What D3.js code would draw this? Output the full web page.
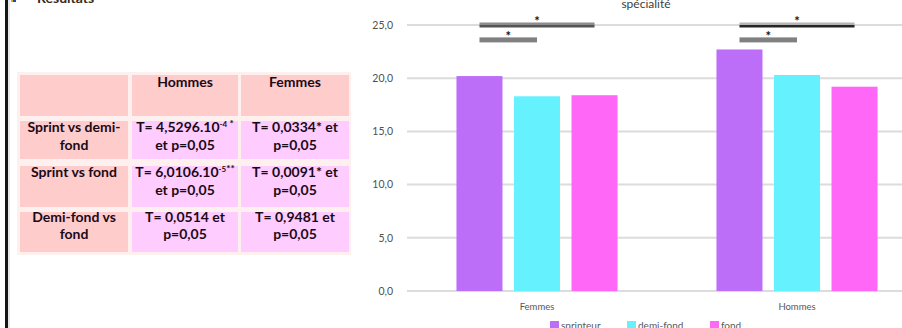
<!DOCTYPE html>
<html>
<head>
<meta charset="utf-8">
<script src="https://cdn.jsdelivr.net/npm/d3@7"></script>
<style>
  html, body { margin: 0; padding: 0; background: #fff; }
  svg { display: block; }
</style>
</head>
<body>
<svg id="root" width="902" height="328"></svg>
<script>
// ---- data ----
const categories = ["Femmes", "Hommes"];
const seriesNames = ["sprinteur", "demi-fond", "fond"];
const sprinteur = [20.2, 22.7];
const demiFond = [18.3, 20.3];
const fond = [18.4, 19.2];
const yTicks = [0, 5, 10, 15, 20, 25];
const colors = ["#bd6ef8", "#66f1ff", "#ff68f6"];

// significance brackets: [from series, to series, label]
const brackets = [
  { from: 0, to: 2, label: "*", level: 25.0, tone: "long" },
  { from: 0, to: 1, label: "*", level: 23.6, tone: "short" }
];

// comparison table (Student test results)
const tableHeader = ["", "Hommes", "Femmes"];
const tableRows = [
  [["Sprint vs demi-", "fond"], ["T= 4,5296.10", "et p=0,05"], ["T= 0,0334* et", "p=0,05"]],
  [["Sprint vs fond"], ["T= 6,0106.10", "et p=0,05"], ["T= 0,0091* et", "p=0,05"]],
  [["Demi-fond vs", "fond"], ["T= 0,0514 et", "p=0,05"], ["T= 0,9481 et", "p=0,05"]]
];
const exponents = [["-4", " *"], ["-5", "**"], null];

const values = [sprinteur, demiFond, fond];

const svg = d3.select("#root");

// ---- page frame on the left ----
svg.append("rect").attr("x", 5).attr("y", 0).attr("width", 3).attr("height", 328).attr("fill", "#151515");
svg.append("rect").attr("x", 8).attr("y", 0).attr("width", 2).attr("height", 328).attr("fill", "#e8e8e8");
svg.append("rect").attr("x", 11).attr("y", 0).attr("width", 2).attr("height", 2).attr("fill", "#f0a030");
svg.append("rect").attr("x", 13).attr("y", 0).attr("width", 3).attr("height", 2).attr("fill", "#1050b0");
svg.append("text").attr("x", 37).attr("y", 3)
  .attr("font-family", "Lato, sans-serif").attr("font-weight", 700).attr("font-size", 14)
  .attr("fill", "#3a2a20").text("Résultats");

// ---- table ----
const colX = [[20, 128], [132, 238], [241, 349]];
const rowY = [[75, 116], [121, 159], [166, 207], [212, 252]];
const tbl = svg.append("g").attr("font-family", "Lato, sans-serif").attr("font-weight", 700)
  .attr("font-size", 14).attr("fill", "#1a0a18");
tbl.append("rect").attr("x", 17).attr("y", 72).attr("width", 334).attr("height", 183).attr("fill", "#fff0f0");
rowY.forEach((ry, ri) => {
  colX.forEach((cx, ci) => {
    const head = ri === 0 || ci === 0;
    tbl.append("rect").attr("x", cx[0]).attr("y", ry[0])
      .attr("width", cx[1] - cx[0]).attr("height", ry[1] - ry[0])
      .attr("fill", head ? "#ffcccc" : "#ffccff");
  });
});
tableHeader.forEach((h, ci) => {
  if (!h) return;
  tbl.append("text").attr("x", (colX[ci][0] + colX[ci][1]) / 2).attr("y", 87)
    .attr("text-anchor", "middle").text(h);
});
const lineBase = [[132, 150], [177, 195], [222, 239]];
tableRows.forEach((row, ri) => {
  row.forEach((lines, ci) => {
    const cx = (colX[ci][0] + colX[ci][1]) / 2;
    lines.forEach((ln, li) => {
      const t = tbl.append("text").attr("x", cx).attr("y", lineBase[ri][li]).attr("text-anchor", "middle");
      if (ci === 1 && li === 0 && exponents[ri]) {
        t.append("tspan").text(ln);
        t.append("tspan").attr("dy", -5).attr("font-size", 8).text(exponents[ri][0]);
        t.append("tspan").attr("dy", 0).attr("font-size", 10).text(exponents[ri][1]);
      } else {
        t.text(ln);
      }
    });
  });
});

// ---- bar chart ----
const plotLeft = 407, plotRight = 927;
const y = d3.scaleLinear().domain([0, 25]).range([291, 25]);
const x0 = d3.scaleBand().domain(categories).range([plotLeft, plotRight]).padding(0);
const x1 = d3.scaleBand().domain(d3.range(seriesNames.length)).range([0, x0.bandwidth()])
  .paddingInner(0.2).paddingOuter(0.86);

svg.append("text").attr("x", 646).attr("y", 8).attr("text-anchor", "middle")
  .attr("font-family", "Lato, sans-serif").attr("font-size", 12).attr("fill", "#404040").text("spécialité");

// gridlines
svg.append("g").selectAll("line").data(yTicks).join("line")
  .attr("x1", plotLeft).attr("x2", 902)
  .attr("y1", d => y(d)).attr("y2", d => y(d))
  .attr("stroke", "#dcdcdc").attr("stroke-width", 2);

// y axis labels
const yAxis = d3.axisLeft(y).tickValues(yTicks).tickSize(0).tickPadding(14)
  .tickFormat(d => d3.format(".1f")(d).replace(".", ","));
const yg = svg.append("g").attr("transform", `translate(${plotLeft},0)`).call(yAxis);
yg.select(".domain").remove();
yg.selectAll("text").attr("font-family", "Lato, sans-serif").attr("font-size", 10.5).attr("fill", "#505050");

// bars
const groups = svg.append("g").selectAll("g").data(categories).join("g")
  .attr("transform", d => `translate(${x0(d)},0)`);
groups.selectAll("rect").data((d, ci) => values.map((s, si) => ({ si, v: s[ci] }))).join("rect")
  .attr("x", d => x1(d.si)).attr("width", x1.bandwidth())
  .attr("y", d => y(d.v)).attr("height", d => y(0) - y(d.v))
  .attr("fill", d => colors[d.si]);

// category axis labels
const xAxis = d3.axisBottom(x0).tickSize(0).tickPadding(12);
const xg = svg.append("g").attr("transform", `translate(0,${y(0)})`).call(xAxis);
xg.select(".domain").remove();
xg.selectAll("text").attr("font-family", "Lato, sans-serif").attr("font-size", 9.5).attr("fill", "#595959");

// significance brackets
categories.forEach((c, ci) => {
  brackets.forEach(b => {
    const xa = x0(c) + x1(b.from) + x1.bandwidth() / 2;
    const xb = x0(c) + x1(b.to) + x1.bandwidth() / 2;
    const yc = y(b.level);
    if (b.tone === "long") {
      svg.append("rect").attr("x", xa).attr("y", yc - 2.5).attr("width", xb - xa).attr("height", 2.5)
        .attr("fill", ci === 0 ? "#8c8c8c" : "#b4b4b4");
      svg.append("rect").attr("x", xa).attr("y", yc).attr("width", xb - xa).attr("height", 2.5)
        .attr("fill", ci === 0 ? "#555555" : "#262626");
    } else {
      svg.append("rect").attr("x", xa).attr("y", yc - 2.5).attr("width", xb - xa).attr("height", 5)
        .attr("fill", "#808080");
    }
    svg.append("text").attr("x", (xa + xb) / 2).attr("y", yc + 1).attr("text-anchor", "middle")
      .attr("font-family", "Lato, sans-serif").attr("font-weight", 700).attr("font-size", 13)
      .attr("fill", "#111").text(b.label);
  });
});

// legend
const legendX = [550, 627, 710];
const lg = svg.append("g");
seriesNames.forEach((n, i) => {
  lg.append("rect").attr("x", legendX[i]).attr("y", 321).attr("width", 9).attr("height", 9).attr("fill", colors[i]);
  lg.append("text").attr("x", legendX[i] + 11).attr("y", 329)
    .attr("font-family", "Lato, sans-serif").attr("font-size", 10).attr("fill", "#595959").text(n);
});
</script>
</body>
</html>
